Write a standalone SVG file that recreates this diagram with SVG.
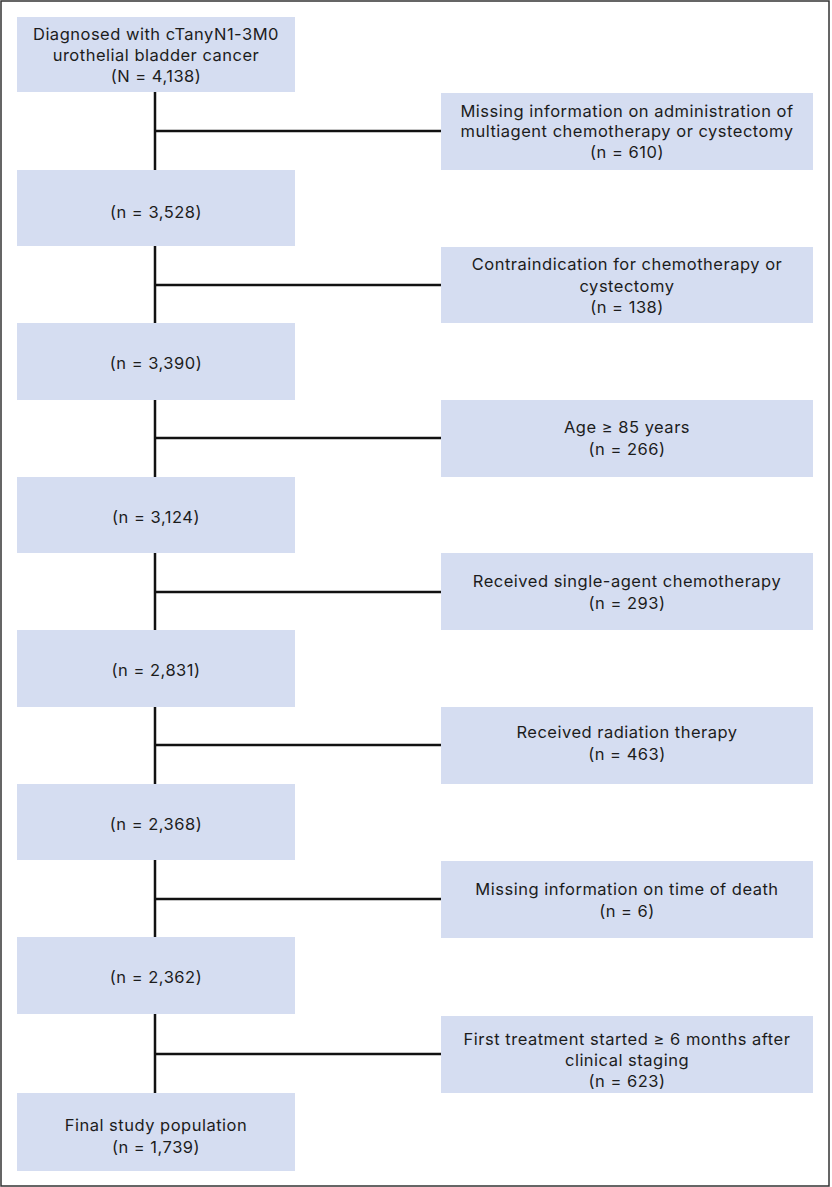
<svg xmlns="http://www.w3.org/2000/svg" width="832" height="1187" viewBox="0 0 832 1187">
<style>
.box{fill:#d5ddf1;}
.t{font-family:"Inter","Liberation Sans",sans-serif;font-size:16.5px;letter-spacing:0.5px;fill:#1c1c1c;text-anchor:middle;}
.ln{stroke:#111;stroke-width:2.5;fill:none;}
</style>
<rect x="1" y="1" width="828" height="1185" fill="#ffffff" stroke="#333" stroke-width="1.5"/>
<g id="connectors">
<line class="ln" x1="155" y1="92" x2="155" y2="1093"/>
<line class="ln" x1="155" y1="131" x2="441" y2="131"/>
<line class="ln" x1="155" y1="285" x2="441" y2="285"/>
<line class="ln" x1="155" y1="438" x2="441" y2="438"/>
<line class="ln" x1="155" y1="592" x2="441" y2="592"/>
<line class="ln" x1="155" y1="745" x2="441" y2="745"/>
<line class="ln" x1="155" y1="899" x2="441" y2="899"/>
<line class="ln" x1="155" y1="1054" x2="441" y2="1054"/>
</g>
<g id="n1"><rect class="box" x="17" y="17" width="278" height="75"/>
<text class="t" x="156" y="40">Diagnosed with cTanyN1-3M0</text>
<text class="t" x="156" y="61">urothelial bladder cancer</text>
<text class="t" x="156" y="81.5">(N = 4,138)</text></g>
<g id="n2"><rect class="box" x="17" y="170" width="278" height="76"/>
<text class="t" x="156" y="217.5">(n = 3,528)</text></g>
<g id="n3"><rect class="box" x="17" y="323" width="278" height="77"/>
<text class="t" x="156" y="369">(n = 3,390)</text></g>
<g id="n4"><rect class="box" x="17" y="477" width="278" height="76"/>
<text class="t" x="156" y="522.5">(n = 3,124)</text></g>
<g id="n5"><rect class="box" x="17" y="630" width="278" height="77"/>
<text class="t" x="156" y="676">(n = 2,831)</text></g>
<g id="n6"><rect class="box" x="17" y="784" width="278" height="76"/>
<text class="t" x="156" y="829.5">(n = 2,368)</text></g>
<g id="n7"><rect class="box" x="17" y="937" width="278" height="77"/>
<text class="t" x="156" y="983">(n = 2,362)</text></g>
<g id="n8"><rect class="box" x="17" y="1093" width="278" height="78"/>
<text class="t" x="156" y="1131">Final study population</text>
<text class="t" x="156" y="1153">(n = 1,739)</text></g>
<g id="e1"><rect class="box" x="441" y="93" width="372" height="77"/>
<text class="t" x="627" y="116.7">Missing information on administration of</text>
<text class="t" x="627" y="137.3">multiagent chemotherapy or cystectomy</text>
<text class="t" x="627" y="158">(n = 610)</text></g>
<g id="e2"><rect class="box" x="441" y="247" width="372" height="76"/>
<text class="t" x="627" y="270">Contraindication for chemotherapy or</text>
<text class="t" x="627" y="291.5">cystectomy</text>
<text class="t" x="627" y="313">(n = 138)</text></g>
<g id="e3"><rect class="box" x="441" y="400" width="372" height="77"/>
<text class="t" x="627" y="433">Age ≥ 85 years</text>
<text class="t" x="627" y="455">(n = 266)</text></g>
<g id="e4"><rect class="box" x="441" y="553" width="372" height="77"/>
<text class="t" x="627" y="587">Received single-agent chemotherapy</text>
<text class="t" x="627" y="608.5">(n = 293)</text></g>
<g id="e5"><rect class="box" x="441" y="707" width="372" height="77"/>
<text class="t" x="627" y="738">Received radiation therapy</text>
<text class="t" x="627" y="760">(n = 463)</text></g>
<g id="e6"><rect class="box" x="441" y="861" width="372" height="77"/>
<text class="t" x="627" y="895">Missing information on time of death</text>
<text class="t" x="627" y="916.5">(n = 6)</text></g>
<g id="e7"><rect class="box" x="441" y="1016" width="372" height="77"/>
<text class="t" x="627" y="1044.5">First treatment started ≥ 6 months after</text>
<text class="t" x="627" y="1065.5">clinical staging</text>
<text class="t" x="627" y="1086.5">(n = 623)</text></g>
</svg>
